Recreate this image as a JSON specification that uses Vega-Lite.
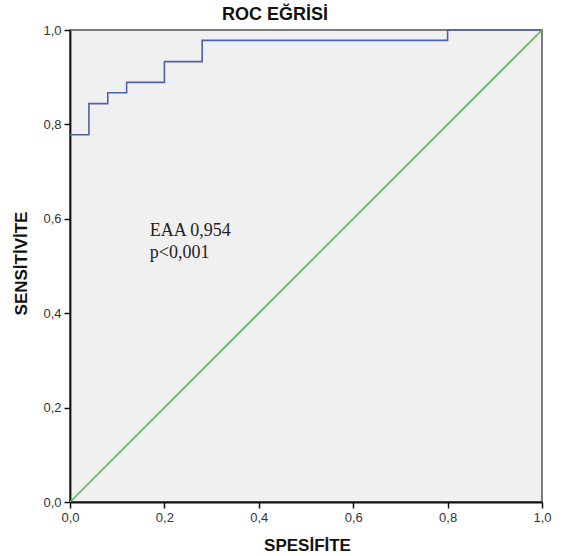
{
  "$schema": "https://vega.github.io/schema/vega-lite/v6.json",
  "autosize": {"type": "none"},
  "padding": {"left": 70, "top": 30, "right": 34, "bottom": 54},
  "width": 472,
  "height": 472,
  "background": "white",
  "title": {
    "text": "ROC EĞRİSİ",
    "font": "Liberation Sans",
    "fontSize": 18,
    "fontWeight": "bold",
    "color": "#111",
    "anchor": "middle",
    "frame": "group",
    "dx": -31,
    "offset": -14,
    "baseline": "alphabetic"
  },
  "layer": [
    {
      "data": {"values": [
        {"spec": 0.0, "sens": 0.778},
        {"spec": 0.04, "sens": 0.844},
        {"spec": 0.08, "sens": 0.867},
        {"spec": 0.12, "sens": 0.889},
        {"spec": 0.2, "sens": 0.933},
        {"spec": 0.28, "sens": 0.978},
        {"spec": 0.8, "sens": 1.0},
        {"spec": 1.0, "sens": 1.0}
      ]},
      "mark": {"type": "line", "interpolate": "step-after", "color": "#4f62a8", "strokeWidth": 1.6},
      "encoding": {
        "x": {"field": "spec", "type": "quantitative", "scale": {"domain": [0, 1], "nice": false},
          "axis": {"title": "SPESİFİTE", "values": [0, 0.2, 0.4, 0.6, 0.8, 1.0], "labelFlush": false, "labelPadding": 3,
            "labelExpr": "replace(format(datum.value, '.1f'), '.', ',')",
            "titleX": 237, "titleY": 48, "titleBaseline": "alphabetic", "titleAlign": "center"}},
        "y": {"field": "sens", "type": "quantitative", "scale": {"domain": [0, 1], "nice": false},
          "axis": {"title": "SENSİTİVİTE", "values": [0, 0.2, 0.4, 0.6, 0.8, 1.0], "labelFlush": false,
            "labelExpr": "replace(format(datum.value, '.1f'), '.', ',')",
            "titleX": -49, "titleY": 233, "titleAngle": -90, "titleBaseline": "middle", "titleAlign": "center"}}
      }
    },
    {
      "data": {"values": [
        {"spec": 0, "sens": 0},
        {"spec": 1, "sens": 1}
      ]},
      "mark": {"type": "line", "color": "#55b955", "strokeWidth": 1.6},
      "encoding": {
        "x": {"field": "spec", "type": "quantitative"},
        "y": {"field": "sens", "type": "quantitative"}
      }
    },
    {
      "data": {"values": [{"note": "EAA 0,954"}]},
      "mark": {"type": "text", "font": "Liberation Serif", "fontSize": 18, "align": "left", "baseline": "alphabetic", "lineHeight": 22, "color": "#222"},
      "encoding": {
        "x": {"datum": 0.169, "type": "quantitative"},
        "y": {"datum": 0.564, "type": "quantitative"},
        "text": {"value": ["EAA 0,954", "p<0,001"]}
      }
    }
  ],
  "config": {
    "view": {"fill": "#f0f0f0", "stroke": "#555", "strokeWidth": 1.5},
    "axis": {
      "grid": false,
      "domainColor": "#111",
      "domainWidth": 1.8,
      "tickColor": "#111",
      "tickWidth": 1.5,
      "tickSize": 6,
      "labelFont": "Liberation Sans",
      "labelFontSize": 13,
      "labelColor": "#333",
      "labelPadding": 3,
      "titleFont": "Liberation Sans",
      "titleFontSize": 17,
      "titleFontWeight": "bold",
      "titleColor": "#111"
    }
  }
}
